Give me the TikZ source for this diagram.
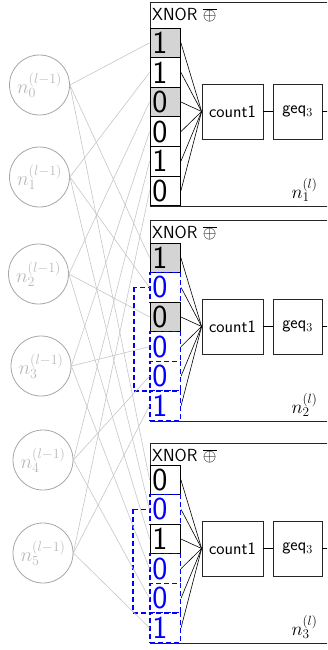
\RequirePackage{fix-cm}
\documentclass[tikz,border=0pt]{standalone}
\usetikzlibrary{calc}
\begin{document}
\begin{tikzpicture}[x=1pt,y=-1pt,
  inp/.style={circle, draw=gray!70, line width=0.8pt, minimum size=60pt, inner sep=0pt, text=gray!55, font=\fontsize{20}{20}\selectfont},
  wire/.style={draw=gray!45, line width=0.6pt},
  cwire/.style={draw=black, line width=0.6pt},
  cellbase/.style={line width=0.8pt, fill=white, minimum height=29.6pt, text width=26pt, inner xsep=2.25pt, inner ysep=0pt, align=left, font=\fontsize{32}{32}\sffamily},
  wcell/.style={cellbase, draw=black},
  gcell/.style={cellbase, draw=black, fill=black!17},
  bcell/.style={cellbase, draw=blue, line width=1.1pt, dash pattern=on 5pt off 3pt, text=blue},
  bigdash/.style={draw=blue, line width=1.1pt, dash pattern=on 5pt off 3pt},
  outerbox/.style={draw=black!85, line width=0.9pt, fill=white, anchor=north west, inner sep=0pt},
  opbox/.style={draw=black!85, line width=0.8pt, minimum height=55pt, inner sep=0pt, font=\fontsize{17.5}{17.5}\sffamily},
  xlab/.style={anchor=west, inner sep=0pt, font=\fontsize{17.5}{17.5}\sffamily},
  nlab/.style={inner sep=0pt, font=\fontsize{19}{19}\selectfont}
]
\useasboundingbox (0,0) rectangle (327,650);
\clip (0,0) rectangle (327,650);

% input neurons
\node[inp] (n0) at (39.5,85) {$n_0^{(l-1)}$};
\node[inp] (n1) at (39.5,177) {$n_1^{(l-1)}$};
\node[inp] (n2) at (38.5,274) {$n_2^{(l-1)}$};
\node[inp] (n3) at (41,366) {$n_3^{(l-1)}$};
\node[inp] (n4) at (43,460) {$n_4^{(l-1)}$};
\node[inp] (n5) at (43,553) {$n_5^{(l-1)}$};

% outer boxes
\node[outerbox, minimum width=200pt, minimum height=203.6pt] (box1) at (150,2) {};
\node[outerbox, minimum width=200pt, minimum height=200.6pt] (box2) at (150,220) {};
\node[outerbox, minimum width=200pt, minimum height=199.6pt] (box3) at (150,443) {};

% big dashed frames
\draw[bigdash] (134,{243+29.6*1.5}) rectangle (168,{243+29.6*5});
\draw[bigdash] (133,{465+29.6*1.5}) rectangle (168,{465+29.6*5});

% cells
\foreach \s/\d [count=\i from 0] in {gcell/1,wcell/1,gcell/0,wcell/0,wcell/1,wcell/0}
  \node[\s] (c1\i) at (165.25,{28+29.6*(\i+0.5)}) {\d};
\foreach \s/\d [count=\i from 0] in {gcell/1,bcell/0,gcell/0,bcell/0,bcell/0,bcell/1}
  \node[\s] (c2\i) at (165.25,{243+29.6*(\i+0.5)}) {\d};
\foreach \s/\d [count=\i from 0] in {wcell/0,bcell/0,wcell/1,bcell/0,bcell/0,bcell/1}
  \node[\s] (c3\i) at (165.25,{465+29.6*(\i+0.5)}) {\d};

% input wires
\foreach \i in {0,...,5}
  \foreach \b in {1,2,3}
    \draw[wire] (n\i.east) -- (c\b\i.west);

% operator boxes and labels
\foreach \b/\T/\C in {1/2/28,2/220/243,3/443/465}{
  \node[xlab] (x\b) at (152,{\T+13}) {XNOR $\overline{\oplus}$};
  \node[opbox, minimum width=61pt] (k\b) at (232.5,{\C+83.5}) {count1};
  \node[opbox, minimum width=49pt] (q\b) at (297.5,{\C+83.5}) {geq$_3$};
  \coordinate (o\b) at (345,{\C+83.5});
  \draw[cwire] (k\b) -- (q\b);
  \draw[cwire] (q\b.east) -- (o\b);
  \node[nlab] (l\b) at (304.5,{\C+162}) {$n_\b^{(l)}$};
  \foreach \i in {0,...,5}
    \draw[cwire] (c\b\i.east) -- (k\b.west);
}
\end{tikzpicture}
\end{document}
